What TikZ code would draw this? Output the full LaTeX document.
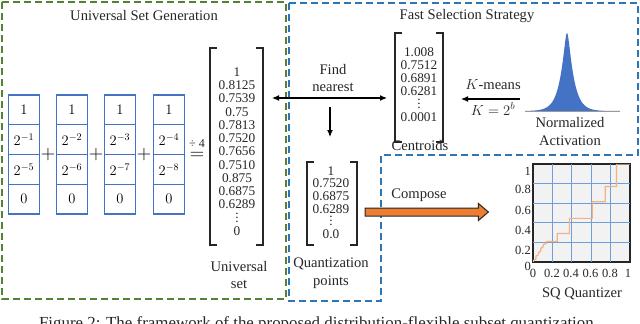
\RequirePackage{fix-cm}
\documentclass[tikz,border=0pt]{standalone}
\usepackage{fontspec}
\setmainfont{Liberation Serif}
\usetikzlibrary{arrows.meta,calc}
\definecolor{grn}{RGB}{84,130,53}
\definecolor{blu}{RGB}{46,117,182}
\definecolor{cellblue}{RGB}{68,114,196}
\definecolor{bellblue}{RGB}{68,114,196}
\definecolor{gridblue}{RGB}{112,158,220}
\definecolor{plotbg}{RGB}{242,242,242}
\definecolor{stepor}{RGB}{244,177,131}
\definecolor{arrowor}{RGB}{237,125,49}
\definecolor{ink}{RGB}{38,38,38}
\begin{document}
\begin{tikzpicture}[x=1pt,y=-1pt,
  lbl/.style={font=\fontsize{14.6}{17.5}\selectfont, align=center, inner sep=0pt, text=ink},
  nums/.style={align=center, inner sep=0pt, text=ink},
  cell/.style={draw=cellblue, line width=1.1pt, minimum width=30.5pt, minimum height=29.75pt, inner sep=0pt, font=\fontsize{14.5}{16}\selectfont},
  op/.style={inner sep=0pt, font=\fontsize{20}{20}\selectfont},
  brk/.style={line width=1.4pt, draw=ink},
  hold/.style={inner sep=0pt, outer sep=0pt},
  region/.style={line width=1.3pt, dash pattern=on 7pt off 4pt},
  conn/.style={line width=1.2pt, draw=black},
  tick/.style={inner sep=0pt, font=\fontsize{12.5}{13}\selectfont, text=ink},
  >={Latex[length=7pt,width=6pt]}]
\useasboundingbox (0,0) rectangle (640,324);

% regions
\draw[region, draw=grn] (2,2) rectangle (286,299);
\draw[region, draw=blu] (289,3) -- (638,3) -- (638,155) -- (381,155) -- (381,301) -- (289,301) -- cycle;

\node[lbl] (tug) at (144,16) {Universal Set Generation};
\node[lbl] (tfs) at (467,16) {Fast Selection Strategy};

% columns of cells
\foreach \ci/\xx/\ea/\eb in {1/24/1/5, 2/72/2/6, 3/120/3/7, 4/169/4/8} {
  \node[cell] (c\ci r1) at (\xx,109.9) {$1$};
  \node[cell] (c\ci r2) at (\xx,139.6) {$2^{-\ea}$};
  \node[cell] (c\ci r3) at (\xx,169.4) {$2^{-\eb}$};
  \node[cell] (c\ci r4) at (\xx,199.1) {$0$};
}
\node[op] (plus1) at (48,154) {$+$};
\node[op] (plus2) at (96,154) {$+$};
\node[op] (plus3) at (144,154) {$+$};
\node[op] (eq) at (197,156) {$=$};
\node[inner sep=0pt, font=\fontsize{12}{12}\selectfont, text=ink] (div) at (197,144) {÷ 4};

% universal set
\node[hold, minimum width=53pt, minimum height=197pt] (usb) at (236.5,146.5) {};
\draw[brk] ([xshift=7pt]usb.north west) -- (usb.north west) -- (usb.south west) -- ([xshift=7pt]usb.south west);
\draw[brk] ([xshift=-7pt]usb.north east) -- (usb.north east) -- (usb.south east) -- ([xshift=-7pt]usb.south east);
\node[nums, font=\fontsize{13.3}{13.25}\selectfont] (usn) at (237,151.5)
  {1\\0.8125\\0.7539\\0.75\\0.7813\\0.7520\\0.7656\\0.7510\\0.875\\0.6875\\0.6289\\\smash{$\vdots$}\\0};
\node[lbl] (usl) at (239,275) {Universal\\set};

% centroids
\node[hold, minimum width=48pt, minimum height=109pt] (cb) at (419,87.5) {};
\draw[brk] ([xshift=7pt]cb.north west) -- (cb.north west) -- (cb.south west) -- ([xshift=7pt]cb.south west);
\draw[brk] ([xshift=-7pt]cb.north east) -- (cb.north east) -- (cb.south east) -- ([xshift=-7pt]cb.south east);
\node[nums, font=\fontsize{13.3}{13}\selectfont] (cn) at (419,84.5)
  {1.008\\0.7512\\0.6891\\0.6281\\\smash{$\vdots$}\\0.0001};
\node[lbl] (cl) at (420,146) {Centroids};

% quantization points
\node[hold, minimum width=50pt, minimum height=83pt] (qb) at (332,203.5) {};
\draw[brk] ([xshift=7pt]qb.north west) -- (qb.north west) -- (qb.south west) -- ([xshift=7pt]qb.south west);
\draw[brk] ([xshift=-7pt]qb.north east) -- (qb.north east) -- (qb.south east) -- ([xshift=-7pt]qb.south east);
\node[nums, font=\fontsize{13.3}{12.6}\selectfont] (qn) at (331,202.5)
  {1\\0.7520\\0.6875\\0.6289\\\smash{$\vdots$}\\0.0};
\node[lbl] (ql) at (331,273) {Quantization\\points};

% find nearest
\node[lbl] (fn) at (333,78) {Find\\nearest};
\coordinate (rowfn) at (0,98);
\draw[conn,<->] ($(usb.east |- rowfn)+(9,0)$) -- ($(cb.west |- rowfn)+(-8,0)$);
\draw[conn,->] ($(qb.north)+(-2,-55)$) -- ($(qb.north)+(-2,-25)$);

% normalized activation
\fill[bellblue] (525,111) -- plot[domain=525:620, samples=240] (\x, {111 - 78*exp(-sqrt((\x-567)^2+4)/6 + 1/3)}) -- (620,111) -- cycle;
\draw[black!40, line width=1pt] (525,111) -- (620,111);
\coordinate (bellL) at (520,99);
\node[lbl] (na) at (570,131.5) {Normalized\\Activation};
\node[lbl] (km) at (493,85) {$K$-means};
\node[lbl] (kb) at (493,109) {$K=2^b$};
\draw[conn,->] (bellL) -- ($(cb.east |- bellL)+(18,0)$);

% compose
\node[lbl] (cp) at (419,195) {Compose};
\node[draw=ink, line width=1.2pt, fill=plotbg, minimum width=97pt, minimum height=98pt, inner sep=0pt] (plt) at (581.5,213) {};
\coordinate (ca) at ($(qb.east)+(8,8.5)$);
\coordinate (cz) at ($(plt.west)+(-44,-1)$);
\filldraw[fill=arrowor, draw=black!85, line width=1pt]
  ($(ca)+(0,-4)$) -- ($(cz)+(-10,-4)$) -- ($(cz)+(-10,-8.5)$) -- (cz) -- ($(cz)+(-10,8.5)$) -- ($(cz)+(-10,4)$) -- ($(ca)+(0,4)$) -- cycle;

% SQ quantizer plot
\begin{scope}[xshift=533pt, yshift=-262pt, x=97pt, y=98pt]
  \foreach \g in {0.2,0.4,0.6,0.8} {
    \draw[gridblue, line width=1pt] (\g,0) -- (\g,1);
    \draw[gridblue, line width=1pt] (0,\g) -- (1,\g);
  }
  \draw[stepor, line width=1.2pt] (0,0) -- (0.01,0.02) -- (0.03,0.03) -- (0.03,0.06) -- (0.05,0.07) -- (0.06,0.10) -- (0.08,0.11) -- (0.08,0.14) -- (0.10,0.15) -- (0.11,0.18) -- (0.14,0.19) -- (0.14,0.21) -- (0.25,0.21) -- (0.25,0.29) -- (0.375,0.29) -- (0.375,0.445) -- (0.61,0.445) -- (0.61,0.615) -- (0.745,0.615) -- (0.745,0.77) -- (0.86,0.77) -- (0.86,1) -- (1,1);
\end{scope}
\draw[ink, line width=1.2pt] (plt.south west) rectangle (plt.north east);
\node[tick, anchor=east] (y1) at (531,171) {1};
\node[tick, anchor=east] (y8) at (531,189) {0.8};
\node[tick, anchor=east] (y6) at (531,210) {0.6};
\node[tick, anchor=east] (y4) at (531,230) {0.4};
\node[tick, anchor=east] (y2) at (531,250) {0.2};
\node[tick, anchor=east] (y0) at (531,266) {0};
\node[tick] (x0) at (533,273) {0};
\node[tick] (x2) at (552,273) {0.2};
\node[tick] (x4) at (571,273) {0.4};
\node[tick] (x6) at (590.5,273) {0.6};
\node[tick] (x8) at (610,273) {0.8};
\node[tick] (x10) at (628,273) {1};
\node[lbl] (sq) at (582,294) {SQ Quantizer};

% caption (cut by the frame)
\node[anchor=base, inner sep=0pt, font=\fontsize{16.9}{20}\selectfont, text=ink] (cap) at (318.5,328)
  {Figure 2: The framework of the proposed distribution-flexible subset quantization.};
\end{tikzpicture}
\end{document}
